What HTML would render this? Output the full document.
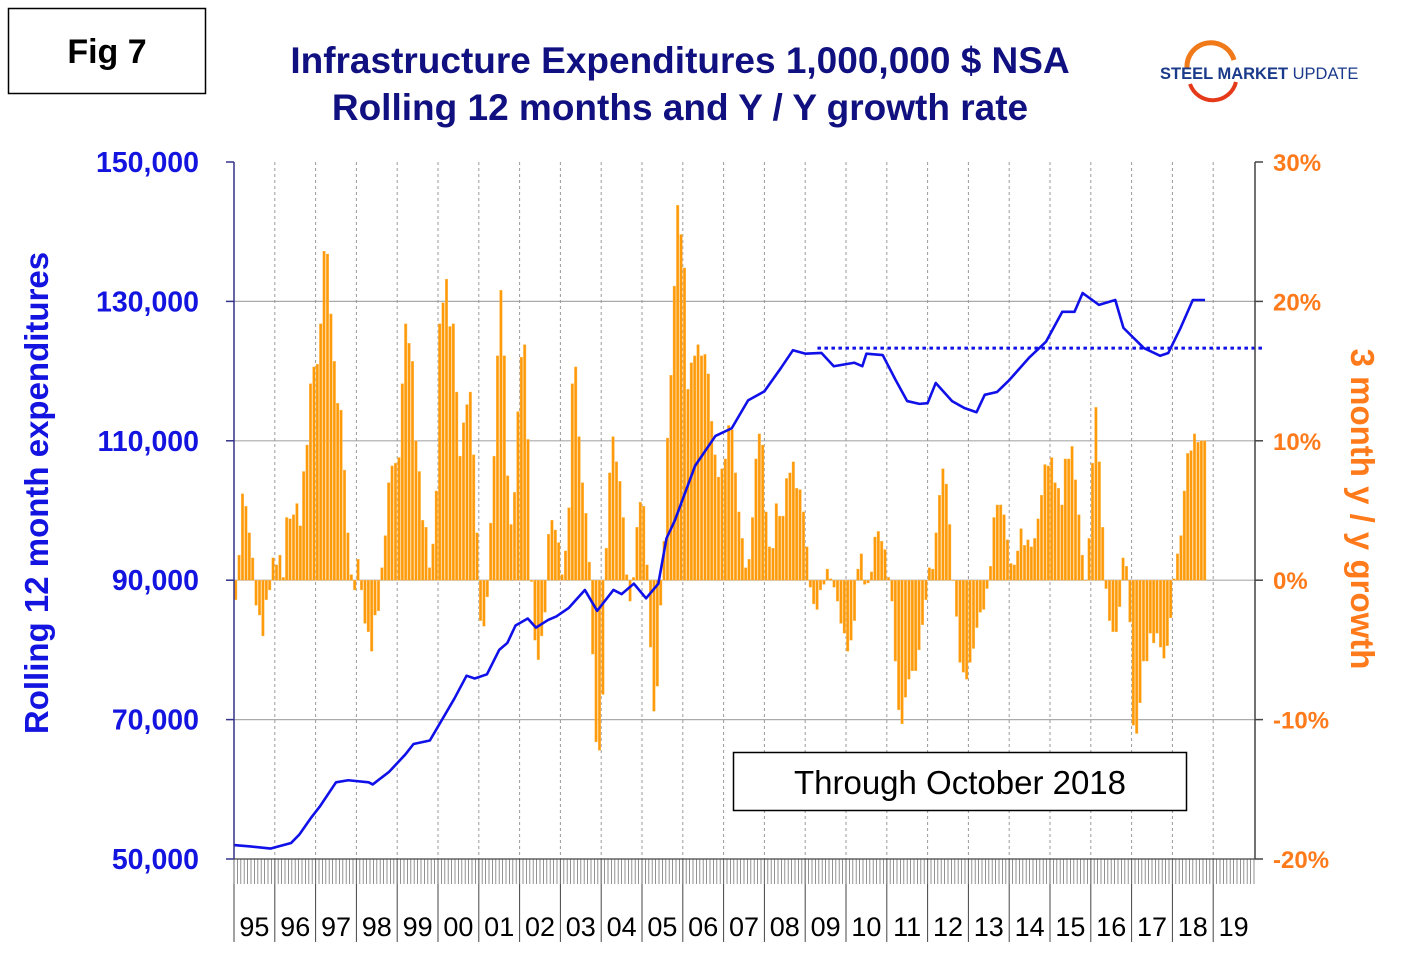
<!DOCTYPE html>
<html><head><meta charset="utf-8"><style>
body{margin:0;background:#fff;}
svg text{font-family:"Liberation Sans",Arial,sans-serif;}
</style></head><body>
<svg width="1420" height="969" viewBox="0 0 1420 969" xmlns="http://www.w3.org/2000/svg">
<rect x="0" y="0" width="1420" height="969" fill="#fff"/>
<rect x="8.5" y="8.5" width="197" height="85" fill="#fff" stroke="#000" stroke-width="1.5"/>
<text x="107" y="63" font-size="34" font-weight="bold" text-anchor="middle">Fig 7</text>
<text x="680" y="73" font-size="37" font-weight="bold" fill="#101080" text-anchor="middle">Infrastructure Expenditures 1,000,000 $ NSA</text>
<text x="680" y="120" font-size="37" font-weight="bold" fill="#101080" text-anchor="middle">Rolling 12 months and Y / Y growth rate</text>
<g>
<path d="M1187,68 A24,24 0 0 1 1234,60" fill="none" stroke="#f07a1a" stroke-width="5"/>
<path d="M1190,84 A24,24 0 0 0 1236,82" fill="none" stroke="#e53a1a" stroke-width="4"/>
<text x="1160" y="79" font-size="16.5" font-weight="bold" fill="#1a3a8a">STEEL MARKET <tspan font-weight="normal">UPDATE</tspan></text>
</g>
<g id="grid"></g>
<g id="bars"></g>
<g id="line"></g>
<g id="axes"></g>
<rect x="733.5" y="752.5" width="453" height="58" fill="#fff" stroke="#000" stroke-width="1.5"/>
<text x="960" y="794" font-size="33" text-anchor="middle">Through October 2018</text>
<text transform="translate(48,493) rotate(-90)" font-size="33" font-weight="bold" fill="#1414e0" text-anchor="middle">Rolling 12 month expenditures</text>
<text transform="translate(1351,509) rotate(90)" font-size="33" font-weight="bold" fill="#ff7a1a" text-anchor="middle">3 month y / y growth</text>
</svg>
<script>
const years=["95","96","97","98","99","00","01","02","03","04","05","06","07","08","09","10","11","12","13","14","15","16","17","18","19"];
const leftTicks=[50000,70000,90000,110000,130000,150000];
const rightTicks=[-20,-10,0,10,20,30];
const growth=[
-1.4,1.8,6.2,5.3,3.4,1.6,-1.8,-2.5,-4.0,-1.4,-0.7,1.6,
1.1,1.8,0.2,4.5,4.4,4.7,5.5,3.9,7.8,9.7,14.1,15.3,
15.5,18.4,23.6,23.4,19.1,15.7,12.7,12.2,7.9,3.4,0.4,-0.7,
1.5,-0.7,-3.1,-3.7,-5.1,-2.5,-2.2,0.9,3.2,7.0,8.2,8.4,
8.8,14.1,18.4,17.0,15.7,10.0,7.8,4.3,3.8,0.9,2.6,6.4,
18.4,19.9,21.6,18.2,18.4,13.5,8.9,11.3,12.6,13.5,9.0,3.4,
-2.9,-3.3,-1.2,4.1,8.9,16.1,20.8,16.1,7.5,4.0,6.3,12.1,
16.0,16.9,10.1,-0.1,-4.3,-5.7,-4.0,-2.3,3.3,4.3,3.6,2.7,
0.4,2.1,5.2,14.1,15.3,10.3,7.0,4.8,1.3,-5.3,-11.6,-12.2,
-8.2,2.3,7.7,10.3,8.5,7.1,4.5,0.4,-1.5,0.2,3.8,5.6,
5.3,1.1,-4.8,-9.4,-7.6,-1.8,2.8,10.2,14.7,21.1,26.9,24.8,
22.4,13.7,15.6,16.1,16.9,16.1,16.2,14.8,11.4,9.0,7.4,8.0,
8.7,11.1,10.8,7.7,4.9,3.0,0.9,1.5,4.5,8.7,10.5,9.7,
4.9,2.4,2.3,5.5,4.6,4.6,7.3,7.7,8.5,6.6,6.5,4.9,
2.4,-0.5,-1.7,-2.1,-0.7,-0.3,0.8,0.1,-0.5,-1.5,-3.1,-3.8,
-5.1,-4.3,-2.9,0.8,1.9,-0.3,-0.2,0.6,3.1,3.5,2.8,2.2,
0.2,-1.5,-5.8,-9.3,-10.3,-8.4,-7.1,-6.5,-6.5,-5.0,-3.2,-1.4,
0.9,0.8,3.4,6.1,8.0,6.9,4.0,0,-2.6,-5.9,-6.6,-7.1,
-5.9,-4.9,-3.4,-2.3,-2.1,-0.6,1.0,4.5,5.4,5.4,4.7,2.9,
1.2,1.1,2.1,3.7,2.5,2.9,2.4,3.0,4.4,6.1,8.3,8.2,
8.8,7.0,6.6,5.4,8.7,8.7,9.6,7.2,4.7,1.8,0,3.0,
8.4,12.4,8.5,3.8,-0.6,-2.9,-3.7,-3.7,-1.9,1.6,1.0,-3.0,
-10.4,-11.0,-8.8,-5.8,-5.8,-3.8,-4.5,-3.8,-4.8,-5.6,-4.7,-2.7,
0.1,1.9,3.2,6.4,9.1,9.3,10.5,9.9,10.0,10.0];
const lineDates=[1995.0,1995.4,1995.9,1996.4,1996.6,1996.9,1997.1,1997.5,1997.8,1998.3,1998.4,1998.8,1999.2,1999.4,1999.8,2000.1,2000.4,2000.7,2000.9,2001.2,2001.5,2001.7,2001.9,2002.2,2002.4,2002.7,2002.9,2003.2,2003.6,2003.9,2004.3,2004.5,2004.8,2005.1,2005.4,2005.6,2005.8,2006.3,2006.8,2007.2,2007.6,2008.0,2008.4,2008.7,2009.0,2009.4,2009.7,2010.2,2010.4,2010.5,2010.9,2011.2,2011.5,2011.8,2012.0,2012.2,2012.6,2012.9,2013.2,2013.4,2013.7,2014.0,2014.5,2014.9,2015.3,2015.6,2015.8,2016.2,2016.6,2016.8,2017.3,2017.7,2017.9,2018.2,2018.5,2018.8];
const lineValues=[52.0,51.8,51.5,52.3,53.5,56.0,57.5,61.0,61.3,61.0,60.7,62.5,65.0,66.5,67.0,70.0,73.0,76.3,75.9,76.5,80.0,81.0,83.5,84.5,83.2,84.3,84.8,86.0,88.6,85.6,88.6,88.0,89.5,87.4,89.5,96.0,98.5,106.4,110.7,111.8,115.8,117.1,120.4,123.0,122.5,122.6,120.7,121.2,120.7,122.5,122.3,118.9,115.7,115.3,115.4,118.3,115.7,114.7,114.1,116.6,117.0,118.7,122.0,124.2,128.5,128.5,131.2,129.5,130.2,126.2,123.3,122.2,122.6,126.2,130.2,130.2];
const refLevel=123.3; const refStart=2009.3;

const NS="http://www.w3.org/2000/svg";
const X0=234,YW=40.8,PT=162,PB=859;
const xd=d=>X0+(d-1995)*YW;
const yL=v=>PB-(v-50000)/100000*(PB-PT);
const yR=p=>PB-(p+20)/50*(PB-PT);
function mk(tag,attrs,parent,txt){const e=document.createElementNS(NS,tag);for(const k in attrs)e.setAttribute(k,attrs[k]);if(txt!==undefined)e.textContent=txt;parent.appendChild(e);return e;}
const grid=document.getElementById('grid'),bars=document.getElementById('bars'),lineG=document.getElementById('line'),axes=document.getElementById('axes');
leftTicks.forEach((t,i)=>{const y=yL(t);
 if(i>0&&i<leftTicks.length-1){const g=mk('line',{x1:X0,x2:1255,y1:y,y2:y,stroke:'#aaa','stroke-width':1.2},grid);
 
 }
 const tk=mk('line',{x1:226,x2:X0,y1:y,y2:y,stroke:'#33338a','stroke-width':1.5},axes);
 
 
 const lb=mk('text',{x:199,y:y+10,'font-size':28.5,'font-weight':'bold',fill:'#1414e0','text-anchor':'end'},axes,t.toLocaleString('en-US'));
 
 
});
rightTicks.forEach(p=>{const y=yR(p);
 const tk=mk('line',{x1:1255,x2:1263,y1:y,y2:y,stroke:'#444','stroke-width':1.5},axes);
 
 
 const lb=mk('text',{x:1273,y:y+9,'font-size':24,'font-weight':'bold',fill:'#ff7a1a'},axes,p+'%');
 
 
});
years.forEach((yr,i)=>{const x=X0+i*YW;
 if(i>0){const g=mk('line',{x1:x,x2:x,y1:PT,y2:PB,stroke:'#999','stroke-width':1,'stroke-dasharray':'3,3'},grid);
 
 }
 const s=mk('line',{x1:x,x2:x,y1:PB,y2:942,stroke:'#444','stroke-width':1},axes);
 
 
 const lb=mk('text',{x:x+YW/2,y:936,'font-size':27,'text-anchor':'middle',fill:'#000'},axes,yr);
 
 
});
for(let m=0;m<=years.length*12;m++){const x=X0+m*YW/12;
 const t=mk('line',{x1:x,x2:x,y1:PB,y2:884,stroke:'#777','stroke-width':0.8},axes);
 
 }
const y0=yR(0);
growth.forEach((g,i)=>{const x=X0+i*YW/12;const y=yR(g);
 const r=mk('rect',{x:x+0.4,y:Math.min(y,y0),width:YW/12-0.8,height:Math.max(0.5,Math.abs(y-y0)),fill:'#ff9a0a',stroke:'#ffc060','stroke-width':0.4},bars);
 
 
});
const pts=lineDates.map((d,i)=>xd(d)+','+yL(lineValues[i]*1000)).join(' ');
const pl=mk('polyline',{points:pts,fill:'none',stroke:'#1010e8','stroke-width':2.6,'stroke-linejoin':'round'},lineG);


const rl=mk('line',{x1:xd(refStart),x2:1262,y1:yL(refLevel*1000),y2:yL(refLevel*1000),stroke:'#1010e8','stroke-width':3,'stroke-dasharray':'3.5,3.5'},lineG);


const la=mk('line',{x1:X0,x2:X0,y1:PT,y2:PB,stroke:'#33338a','stroke-width':1.5},axes);


const ra=mk('line',{x1:1255,x2:1255,y1:PT,y2:PB,stroke:'#444','stroke-width':1.5},axes);


const ba=mk('line',{x1:X0,x2:1255,y1:PB,y2:PB,stroke:'#444','stroke-width':1.2},axes);


</script>
</body></html>
